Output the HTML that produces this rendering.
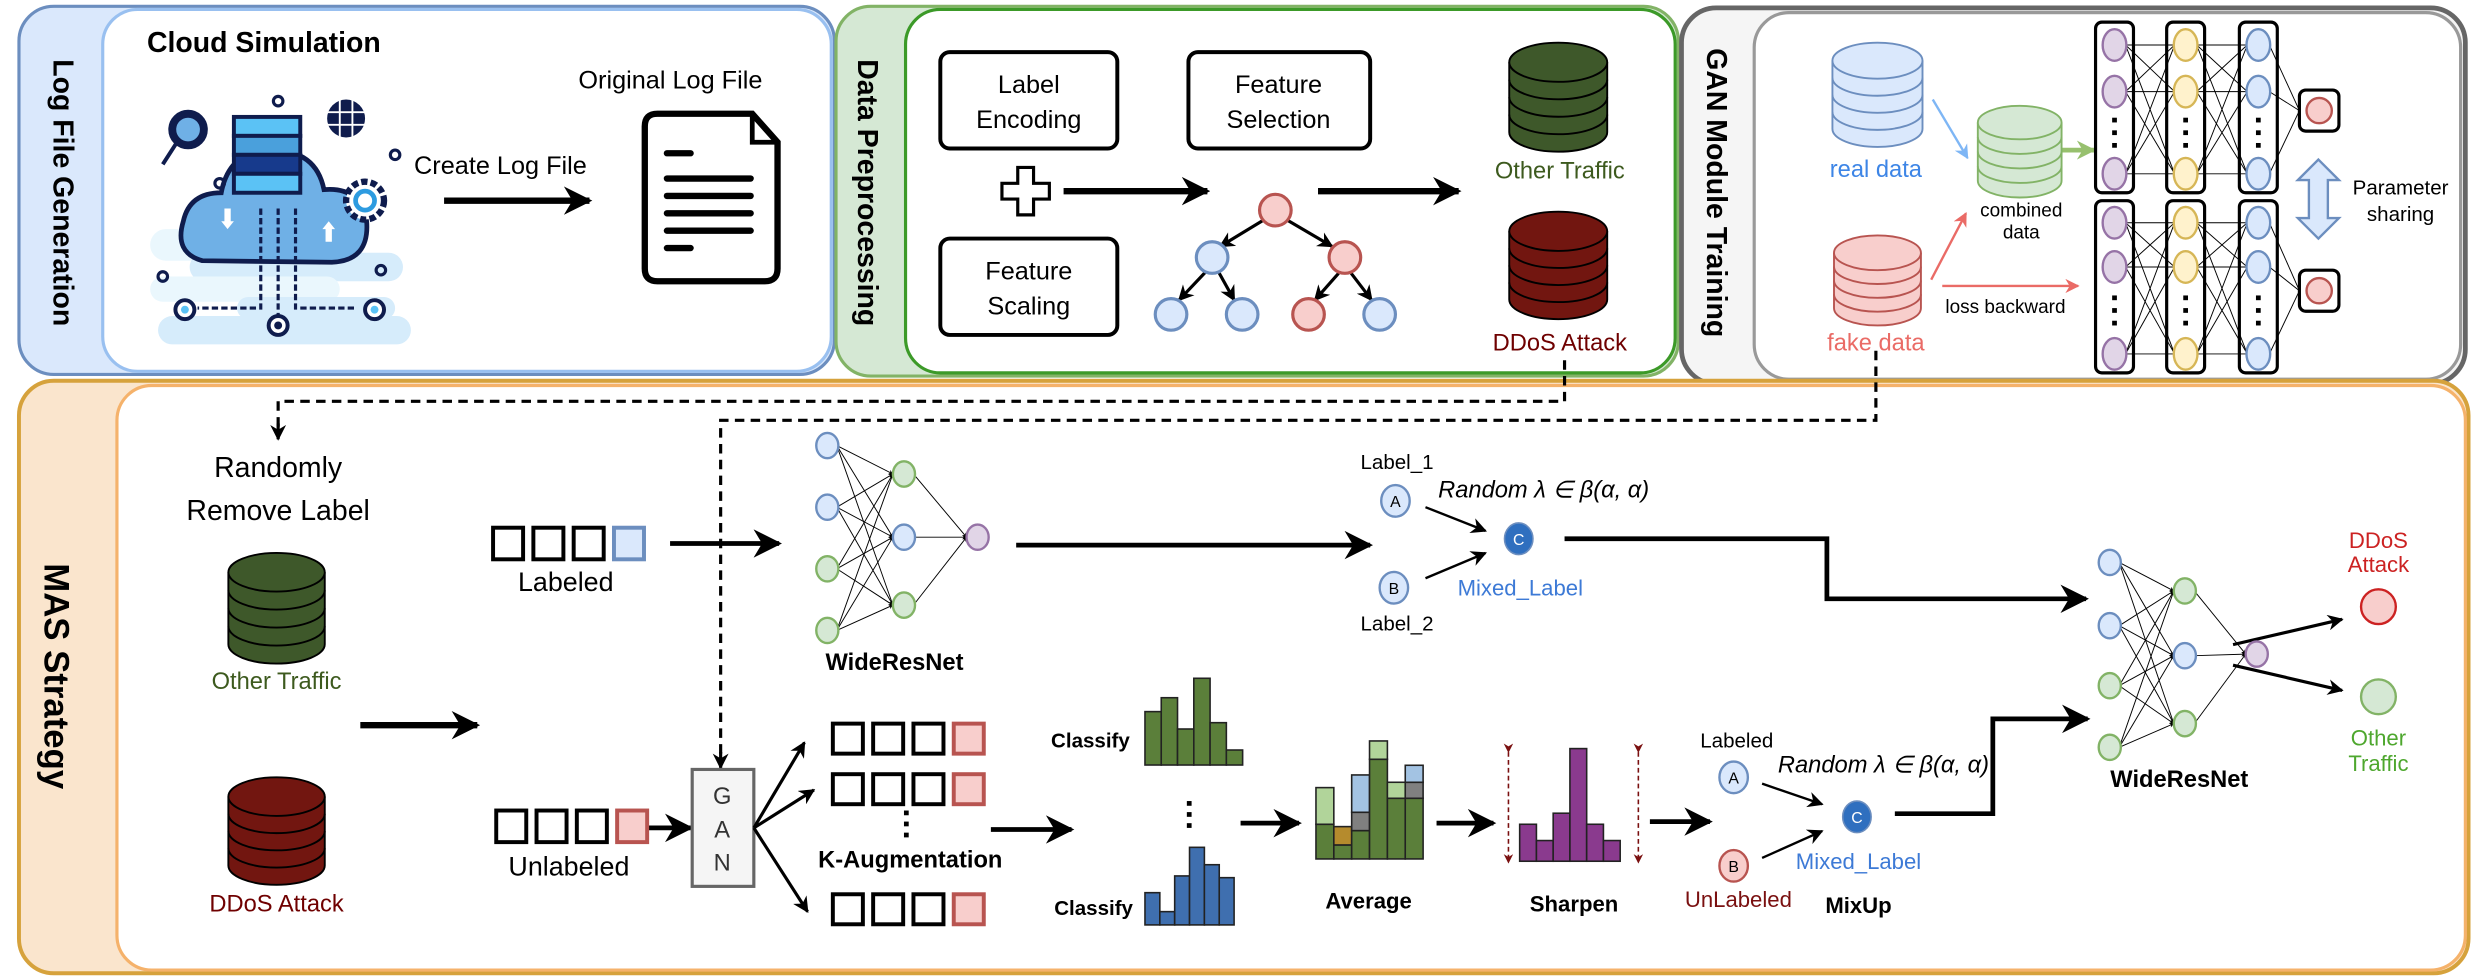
<!DOCTYPE html>
<html><head><meta charset="utf-8"><style>
html,body{margin:0;padding:0;background:#fff;}
svg{display:block;}
text{font-family:"Liberation Sans",Arial,sans-serif;}
</style></head><body>
<svg id="s" width="2478" height="978" viewBox="0 0 1568 619" preserveAspectRatio="none">
<defs>
<marker id="ah" viewBox="0 0 10 10" refX="9" refY="5" markerWidth="5" markerHeight="5" orient="auto"><path d="M0,0 L10,5 L0,10 L3,5 Z" fill="#000"/></marker>
<marker id="ahs" viewBox="0 0 10 10" refX="9" refY="5" markerUnits="userSpaceOnUse" markerWidth="18" markerHeight="18" orient="auto"><path d="M0,0 L10,5 L0,10 L3,5 Z" fill="#000"/></marker>
<marker id="ahm" viewBox="0 0 10 10" refX="9" refY="5" markerUnits="userSpaceOnUse" markerWidth="10" markerHeight="10" orient="auto"><path d="M0,0 L10,5 L0,10 L3,5 Z" fill="#000"/></marker>
<marker id="ahb" viewBox="0 0 10 10" refX="9" refY="5" markerWidth="6" markerHeight="6" orient="auto"><path d="M0,0 L10,5 L0,10 L3,5 Z" fill="#7eb6f5"/></marker>
<marker id="ahr" viewBox="0 0 10 10" refX="9" refY="5" markerWidth="6" markerHeight="6" orient="auto"><path d="M0,0 L10,5 L0,10 L3,5 Z" fill="#ea6b66"/></marker>
<marker id="ahg" viewBox="0 0 10 10" refX="9" refY="5" markerWidth="4" markerHeight="4" orient="auto"><path d="M0,0 L10,5 L0,10 L3,5 Z" fill="#97c06e"/></marker>
<marker id="ahd" viewBox="0 0 10 10" refX="9" refY="5" markerWidth="6" markerHeight="6" orient="auto"><path d="M0,0 L10,5 L0,10 L3,5 Z" fill="#7a1010"/></marker>
</defs>

<rect x="12" y="4" width="516" height="233" rx="22" fill="#dae8fc" stroke="#6c8ebf" stroke-width="2"/>
<rect x="65" y="6" width="461" height="229" rx="22" fill="#fff" stroke="#99c0f0" stroke-width="2"/>
<rect x="529" y="4" width="533" height="234" rx="22" fill="#d5e8d4" stroke="#82b366" stroke-width="2"/>
<rect x="573" y="6" width="487" height="230" rx="22" fill="#fff" stroke="#3c9a28" stroke-width="2"/>
<rect x="1064" y="5" width="496" height="238" rx="22" fill="#f5f5f5" stroke="#666" stroke-width="3"/>
<rect x="1110" y="8" width="447" height="232" rx="22" fill="#fff" stroke="#999" stroke-width="2"/>
<rect x="12" y="241" width="1550" height="375" rx="22" fill="#fae5cd" stroke="#d6a23c" stroke-width="2.5"/>
<rect x="74" y="244" width="1486" height="370" rx="22" fill="#fff" stroke="#f5b26b" stroke-width="2"/>

<text transform="rotate(90 40 122)" x="40" y="128" text-anchor="middle" font-size="18" font-weight="bold">Log File Generation</text>
<text transform="rotate(90 549 122)" x="549" y="128" text-anchor="middle" font-size="18" font-weight="bold">Data Preprocessing</text>
<text transform="rotate(90 1086 122)" x="1086" y="128" text-anchor="middle" font-size="18" font-weight="bold">GAN Module Training</text>
<text transform="rotate(90 36 428)" x="36" y="436" text-anchor="middle" font-size="22" font-weight="bold">MAS Strategy</text>

<text x="93" y="33" font-size="18" font-weight="bold">Cloud Simulation</text>
<text x="366" y="56" font-size="16">Original Log File</text>
<text x="262" y="110" font-size="16">Create Log File</text>
<line x1="281" y1="127" x2="373" y2="127" stroke="#000" stroke-width="4" marker-end="url(#ahs)"/>
<path d="M408,80 Q408,72 416,72 L476,72 L492,90 L492,170 Q492,178 484,178 L416,178 Q408,178 408,170 Z" fill="#fff" stroke="#000" stroke-width="4"/>
<path d="M476,72 L476,90 L492,90" fill="none" stroke="#000" stroke-width="3"/>
<g stroke="#000" stroke-width="4" stroke-linecap="round">
<line x1="422" y1="97" x2="437" y2="97"/><line x1="422" y1="113" x2="475" y2="113"/><line x1="422" y1="124" x2="475" y2="124"/><line x1="422" y1="135" x2="475" y2="135"/><line x1="422" y1="146" x2="475" y2="146"/><line x1="422" y1="157" x2="437" y2="157"/>
</g>
<g>
<rect x="95" y="145" width="130" height="20" rx="10" fill="#eaf7fd"/>
<rect x="120" y="160" width="135" height="18" rx="9" fill="#d6ecfb"/>
<rect x="95" y="175" width="120" height="16" rx="8" fill="#eaf7fd"/>
<rect x="100" y="200" width="160" height="18" rx="9" fill="#d6ecfb"/>
<rect x="150" y="188" width="100" height="14" rx="7" fill="#d6ecfb"/>
<path d="M128,165 Q110,160 116,140 Q120,122 140,122 Q145,95 172,95 Q200,95 205,120 Q228,118 232,140 Q234,165 210,166 Z" fill="#6fb0e6" stroke="#0f1c4d" stroke-width="3"/>
<rect x="148" y="74" width="42" height="12" fill="#5bc2f5" stroke="#0f1c4d" stroke-width="2.5"/>
<rect x="148" y="86" width="42" height="12" fill="#4aa0dc" stroke="#0f1c4d" stroke-width="2.5"/>
<rect x="148" y="98" width="42" height="12" fill="#173a8c" stroke="#0f1c4d" stroke-width="2.5"/>
<rect x="148" y="110" width="42" height="12" fill="#5bc2f5" stroke="#0f1c4d" stroke-width="2.5"/>
<circle cx="119" cy="82" r="10" fill="#6fb0e6" stroke="#0f1c4d" stroke-width="5"/>
<line x1="112" y1="90" x2="103" y2="104" stroke="#0f1c4d" stroke-width="2.5"/>
<circle cx="219" cy="75" r="12" fill="#0f1c4d"/>
<g stroke="#fff" stroke-width="1.2"><line x1="207" y1="71" x2="231" y2="71"/><line x1="207" y1="79" x2="231" y2="79"/><line x1="215" y1="63" x2="215" y2="87"/><line x1="223" y1="63" x2="223" y2="87"/></g>
<circle cx="231" cy="127" r="12" fill="#fff" stroke="#0f1c4d" stroke-width="4" stroke-dasharray="4 2"/>
<circle cx="231" cy="127" r="6" fill="#fff" stroke="#2d9be0" stroke-width="3"/>
<g stroke="#0f1c4d" stroke-width="2" stroke-dasharray="4 2" fill="none">
<path d="M165,132 V195 H125"/><line x1="176" y1="132" x2="176" y2="205"/><path d="M187,132 V195 H226"/></g>
<circle cx="117" cy="196" r="6" fill="#fff" stroke="#0f1c4d" stroke-width="2.5"/><circle cx="117" cy="196" r="2.5" fill="#5bc2f5"/>
<circle cx="237" cy="196" r="6" fill="#fff" stroke="#0f1c4d" stroke-width="2.5"/><circle cx="237" cy="196" r="2.5" fill="#5bc2f5"/>
<circle cx="176" cy="206" r="6" fill="#fff" stroke="#0f1c4d" stroke-width="2.5"/><circle cx="176" cy="206" r="2.5" fill="#0f1c4d"/>
<path d="M144,145 l4,-5 h-2 v-8 h-4 v8 h-2 z" fill="#fff"/>
<path d="M208,140 l4,5 h-2 v8 h-4 v-8 h-2 z" fill="#fff"/>
<g fill="none" stroke="#0f1c4d" stroke-width="2"><circle cx="176" cy="64" r="3"/><circle cx="139" cy="116" r="3"/><circle cx="103" cy="175" r="3"/><circle cx="241" cy="171" r="3"/><circle cx="250" cy="98" r="3"/></g>
</g>

<rect x="595" y="33" width="112" height="61" rx="6" fill="#fff" stroke="#000" stroke-width="2.5"/>
<text x="651" y="59" font-size="16" text-anchor="middle">Label</text><text x="651" y="81" font-size="16" text-anchor="middle">Encoding</text>
<rect x="752" y="33" width="115" height="61" rx="6" fill="#fff" stroke="#000" stroke-width="2.5"/>
<text x="809" y="59" font-size="16" text-anchor="middle">Feature</text><text x="809" y="81" font-size="16" text-anchor="middle">Selection</text>
<rect x="595" y="151" width="112" height="61" rx="6" fill="#fff" stroke="#000" stroke-width="2.5"/>
<text x="651" y="177" font-size="16" text-anchor="middle">Feature</text><text x="651" y="199" font-size="16" text-anchor="middle">Scaling</text>
<path d="M644,106 h10 v10 h10 v10 h-10 v10 h-10 v-10 h-10 v-10 h10 z" fill="#fff" stroke="#000" stroke-width="2"/>
<line x1="673" y1="121" x2="764" y2="121" stroke="#000" stroke-width="4" marker-end="url(#ahs)"/>
<line x1="834" y1="121" x2="923" y2="121" stroke="#000" stroke-width="4" marker-end="url(#ahs)"/>
<g stroke="#000" stroke-width="2">
<line x1="800" y1="139" x2="772" y2="156" marker-end="url(#ahm)"/>
<line x1="814" y1="139" x2="843" y2="156" marker-end="url(#ahm)"/>
<line x1="763" y1="172" x2="746" y2="190" marker-end="url(#ahm)"/>
<line x1="771" y1="172" x2="781" y2="190" marker-end="url(#ahm)"/>
<line x1="847" y1="173" x2="832" y2="190" marker-end="url(#ahm)"/>
<line x1="855" y1="173" x2="868" y2="190" marker-end="url(#ahm)"/>
</g>
<g stroke-width="2">
<ellipse cx="807" cy="133" rx="10" ry="10" fill="#f8cecc" stroke="#b85450"/>
<ellipse cx="767" cy="163" rx="10" ry="10" fill="#dae8fc" stroke="#6c8ebf"/>
<ellipse cx="851" cy="163" rx="10" ry="10" fill="#f8cecc" stroke="#b85450"/>
<ellipse cx="741" cy="199" rx="10" ry="10" fill="#dae8fc" stroke="#6c8ebf"/>
<ellipse cx="786" cy="199" rx="10" ry="10" fill="#dae8fc" stroke="#6c8ebf"/>
<ellipse cx="828" cy="199" rx="10" ry="10" fill="#f8cecc" stroke="#b85450"/>
<ellipse cx="873" cy="199" rx="10" ry="10" fill="#dae8fc" stroke="#6c8ebf"/>
</g>
<text x="987" y="113" font-size="15" fill="#3d5a1e" text-anchor="middle">Other Traffic</text>
<text x="987" y="222" font-size="15" fill="#6f0000" text-anchor="middle">DDoS Attack</text>

<text x="1187" y="112" font-size="15" fill="#3d85e6" text-anchor="middle">real data</text>
<text x="1187" y="222" font-size="15" fill="#ea6b66" text-anchor="middle">fake data</text>
<text x="1279" y="137" font-size="12" text-anchor="middle">combined</text>
<text x="1279" y="151" font-size="12" text-anchor="middle">data</text>
<text x="1269" y="198" font-size="12" text-anchor="middle">loss backward</text>
<line x1="1223" y1="63" x2="1245" y2="100" stroke="#7eb6f5" stroke-width="1.5" marker-end="url(#ahb)"/>
<line x1="1222" y1="177" x2="1244" y2="135" stroke="#ea6b66" stroke-width="1.5" marker-end="url(#ahr)"/>
<line x1="1229" y1="181" x2="1315" y2="181" stroke="#ea6b66" stroke-width="1.5" marker-end="url(#ahr)"/>
<line x1="1305" y1="95" x2="1325" y2="95" stroke="#97c06e" stroke-width="3" marker-end="url(#ahg)"/>
<path d="M1467,101 L1480,114 L1473,114 L1473,138 L1480,138 L1467,151 L1454,138 L1461,138 L1461,114 L1454,114 Z" fill="#dae8fc" stroke="#6c8ebf" stroke-width="1.5"/>
<text x="1519" y="123" font-size="13" text-anchor="middle">Parameter</text>
<text x="1519" y="140" font-size="13" text-anchor="middle">sharing</text>

<g stroke="#000" stroke-width="2" stroke-dasharray="6 4" fill="none">
<path d="M990,228 V254 H176 V272"/>
<path d="M1187,222 V266 H456 V480"/>
</g>
<line x1="176" y1="268" x2="176" y2="278" stroke="#000" stroke-width="2" marker-end="url(#ahm)"/>
<line x1="456" y1="476" x2="456" y2="486" stroke="#000" stroke-width="2" marker-end="url(#ahm)"/>
<text x="176" y="302" font-size="18" text-anchor="middle">Randomly</text>
<text x="176" y="329" font-size="18" text-anchor="middle">Remove Label</text>
<text x="175" y="436" font-size="15" fill="#3d5a1e" text-anchor="middle">Other Traffic</text>
<text x="175" y="577" font-size="15" fill="#6f0000" text-anchor="middle">DDoS Attack</text>
<line x1="228" y1="459" x2="302" y2="459" stroke="#000" stroke-width="4" marker-end="url(#ahs)"/>

<text x="358" y="374" font-size="17" text-anchor="middle">Labeled</text>
<text x="360" y="554" font-size="17" text-anchor="middle">Unlabeled</text>
<line x1="424" y1="344" x2="493" y2="344" stroke="#000" stroke-width="3" marker-end="url(#ahs)"/>
<line x1="410" y1="524" x2="437" y2="524" stroke="#000" stroke-width="3" marker-end="url(#ahs)"/>
<rect x="438" y="487" width="39" height="74" fill="#f5f5f5" stroke="#666" stroke-width="2"/>
<text x="457" y="509" font-size="15" text-anchor="middle" fill="#333">G</text>
<text x="457" y="530" font-size="15" text-anchor="middle" fill="#333">A</text>
<text x="457" y="551" font-size="15" text-anchor="middle" fill="#333">N</text>
<g stroke="#000" stroke-width="2">
<line x1="477" y1="524" x2="509" y2="470" marker-end="url(#ahm)"/>
<line x1="477" y1="524" x2="515" y2="500" marker-end="url(#ahm)"/>
<line x1="477" y1="524" x2="511" y2="577" marker-end="url(#ahm)"/>
</g>
<g fill="#000"><rect x="572" y="513" width="3" height="3"/><rect x="572" y="520" width="3" height="3"/><rect x="572" y="527" width="3" height="3"/>
<rect x="751" y="507" width="3" height="3"/><rect x="751" y="514" width="3" height="3"/><rect x="751" y="521" width="3" height="3"/></g>
<text x="576" y="549" font-size="15" font-weight="bold" text-anchor="middle">K-Augmentation</text>
<line x1="627" y1="525" x2="678" y2="525" stroke="#000" stroke-width="3" marker-end="url(#ahs)"/>
<text x="690" y="473" font-size="13" font-weight="bold" text-anchor="middle">Classify</text>
<text x="692" y="579" font-size="13" font-weight="bold" text-anchor="middle">Classify</text>
<line x1="785" y1="521" x2="822" y2="521" stroke="#000" stroke-width="3" marker-end="url(#ahs)"/>
<line x1="909" y1="521" x2="945" y2="521" stroke="#000" stroke-width="3" marker-end="url(#ahs)"/>
<line x1="1044" y1="520" x2="1082" y2="520" stroke="#000" stroke-width="3" marker-end="url(#ahs)"/>
<text x="866" y="575" font-size="14" font-weight="bold" text-anchor="middle">Average</text>
<text x="996" y="577" font-size="14" font-weight="bold" text-anchor="middle">Sharpen</text>
<g stroke="#7a1010" stroke-width="1" stroke-dasharray="3 2">
<line x1="954.5" y1="476" x2="954.5" y2="546" marker-end="url(#ahd)" marker-start="url(#ahd)"/>
<line x1="1036.7" y1="476" x2="1036.7" y2="546" marker-end="url(#ahd)" marker-start="url(#ahd)"/>
</g>

<line x1="643" y1="345" x2="867" y2="345" stroke="#000" stroke-width="3" marker-end="url(#ahs)"/>
<text x="884" y="297" font-size="13" text-anchor="middle">Label_1</text>
<text x="884" y="399" font-size="13" text-anchor="middle">Label_2</text>
<text x="910" y="315" font-size="15" font-style="italic" font-family="Liberation Serif,serif">Random λ ∈ β(α, α)</text>
<ellipse cx="883" cy="317" rx="9" ry="10" fill="#dae8fc" stroke="#6c8ebf" stroke-width="1.5"/>
<text x="883" y="321" font-size="10" text-anchor="middle">A</text>
<ellipse cx="882" cy="372" rx="9" ry="10" fill="#dae8fc" stroke="#6c8ebf" stroke-width="1.5"/>
<text x="882" y="376" font-size="10" text-anchor="middle">B</text>
<ellipse cx="961" cy="341" rx="9" ry="10" fill="#2f6fbf" stroke="#6c8ebf" stroke-width="1"/>
<text x="961" y="345" font-size="10" fill="#fff" text-anchor="middle">C</text>
<text x="962" y="377" font-size="14" fill="#3d7ad6" text-anchor="middle">Mixed_Label</text>
<line x1="902" y1="321" x2="940" y2="336" stroke="#000" stroke-width="1.5" marker-end="url(#ahm)"/>
<line x1="902" y1="366" x2="940" y2="350" stroke="#000" stroke-width="1.5" marker-end="url(#ahm)"/>
<path d="M990,341 H1156 V379 H1320" fill="none" stroke="#000" stroke-width="3" marker-end="url(#ahs)"/>

<text x="1099" y="473" font-size="13" text-anchor="middle">Labeled</text>
<text x="1125" y="489" font-size="15" font-style="italic" font-family="Liberation Serif,serif">Random λ ∈ β(α, α)</text>
<ellipse cx="1097" cy="492" rx="9" ry="10" fill="#dae8fc" stroke="#6c8ebf" stroke-width="1.5"/>
<text x="1097" y="496" font-size="10" text-anchor="middle">A</text>
<ellipse cx="1097" cy="548" rx="9" ry="10" fill="#f8cecc" stroke="#b85450" stroke-width="1.5"/>
<text x="1097" y="552" font-size="10" text-anchor="middle">B</text>
<ellipse cx="1175" cy="517" rx="9" ry="10" fill="#2f6fbf" stroke="#6c8ebf" stroke-width="1"/>
<text x="1175" y="521" font-size="10" fill="#fff" text-anchor="middle">C</text>
<text x="1176" y="550" font-size="14" fill="#3d7ad6" text-anchor="middle">Mixed_Label</text>
<text x="1100" y="574" font-size="14" fill="#7a1010" text-anchor="middle">UnLabeled</text>
<text x="1176" y="578" font-size="14" font-weight="bold" text-anchor="middle">MixUp</text>
<line x1="1115" y1="496" x2="1153" y2="509" stroke="#000" stroke-width="1.5" marker-end="url(#ahm)"/>
<line x1="1115" y1="543" x2="1153" y2="526" stroke="#000" stroke-width="1.5" marker-end="url(#ahm)"/>
<path d="M1199,515 H1261 V455 H1321" fill="none" stroke="#000" stroke-width="3" marker-end="url(#ahs)"/>

<text x="566" y="424" font-size="15" font-weight="bold" text-anchor="middle">WideResNet</text>
<text x="1379" y="498" font-size="15" font-weight="bold" text-anchor="middle">WideResNet</text>
<line x1="1413" y1="408" x2="1482" y2="392" stroke="#000" stroke-width="2" marker-end="url(#ahm)"/>
<line x1="1413" y1="421" x2="1482" y2="437" stroke="#000" stroke-width="2" marker-end="url(#ahm)"/>
<ellipse cx="1505" cy="384" rx="11" ry="11" fill="#f8cecc" stroke="#cc2222" stroke-width="1.5"/>
<ellipse cx="1505" cy="441" rx="11" ry="11" fill="#d5e8d4" stroke="#82b366" stroke-width="1.5"/>
<text x="1505" y="347" font-size="14" fill="#cc2222" text-anchor="middle">DDoS</text>
<text x="1505" y="362" font-size="14" fill="#cc2222" text-anchor="middle">Attack</text>
<text x="1505" y="472" font-size="14" fill="#4ea72e" text-anchor="middle">Other</text>
<text x="1505" y="488" font-size="14" fill="#4ea72e" text-anchor="middle">Traffic</text>
</svg>
<script>
(function(){
var s=document.getElementById('s');
function add(h){s.insertAdjacentHTML('beforeend',h);}
function cyl(cx,top,bot,w,n,fill,stroke){
 var rx=w/2,ry=w*0.2,h='';var L=cx-rx,R=cx+rx;
 h+='<path d="M'+L+','+(top+ry)+' V'+(bot-ry)+' A'+rx+','+ry+' 0 0 0 '+R+','+(bot-ry)+' V'+(top+ry)+'" fill="'+fill+'" stroke="'+stroke+'" stroke-width="1.2"/>';
 h+='<ellipse cx="'+cx+'" cy="'+(top+ry)+'" rx="'+rx+'" ry="'+ry+'" fill="'+fill+'" stroke="'+stroke+'" stroke-width="1.2"/>';
 var step=(bot-top-2*ry)/n;
 for(var i=1;i<n;i++){var y=top+ry+step*i;h+='<path d="M'+L+','+y+' A'+rx+','+ry+' 0 0 0 '+R+','+y+'" fill="none" stroke="'+stroke+'" stroke-width="1.2"/>';}
 add(h);
}
cyl(986,27,96,62,4,'#3e582a','#000');
cyl(986,134,202,62,4,'#721610','#000');
cyl(175,350,420,61,4,'#3e582a','#000');
cyl(175,492,560,61,4,'#721610','#000');
cyl(1188,27,93,57,4,'#dae8fc','#6c8ebf');
cyl(1188,149,206,55,4,'#f8cecc','#b85450');
cyl(1278,67,125,53,4,'#d5e8d4','#82b366');
var cols=[1338,1383,1429],h='';
function ganSet(y0,y1,ys,dy){
 for(var c=0;c<3;c++){h+='<rect x="'+(cols[c]-12)+'" y="'+y0+'" width="24" height="'+(y1-y0)+'" rx="4" fill="#fff" stroke="#000" stroke-width="2"/>';}
 for(var c=0;c<2;c++)for(var i=0;i<3;i++)for(var j=0;j<3;j++)h+='<line x1="'+(cols[c]+7)+'" y1="'+ys[i]+'" x2="'+(cols[c+1]-7)+'" y2="'+ys[j]+'" stroke="#000" stroke-width="0.6"/>';
 for(var i=0;i<3;i++)h+='<line x1="'+(cols[2]+7)+'" y1="'+ys[i]+'" x2="1455" y2="'+dy+'" stroke="#000" stroke-width="0.6"/>';
 h+='<rect x="1455" y="'+(dy-13)+'" width="25" height="26" rx="4" fill="#fff" stroke="#000" stroke-width="2"/>';
 h+='<ellipse cx="1467.5" cy="'+dy+'" rx="8" ry="8" fill="#f8cecc" stroke="#b85450" stroke-width="1.5"/>';
 var cf=[['#e1d5e7','#9673a6'],['#fff2cc','#d6b656'],['#dae8fc','#6c8ebf']];
 for(var c=0;c<3;c++){for(var i=0;i<3;i++)h+='<ellipse cx="'+cols[c]+'" cy="'+ys[i]+'" rx="7.5" ry="10" fill="'+cf[c][0]+'" stroke="'+cf[c][1]+'" stroke-width="1.5"/>';
  var m=(ys[1]+ys[2])/2;for(var k=-1;k<=1;k++)h+='<rect x="'+(cols[c]-1.5)+'" y="'+(m+k*8-1.5)+'" width="3" height="3"/>';}
}
ganSet(14,122,[28.5,58,110],70);
ganSet(127,236,[141,169,224],184);
add(h);
h='';
function sqrow(x,y,w,last,ls){for(var i=0;i<3;i++)h+='<rect x="'+(x+i*25.5)+'" y="'+y+'" width="19" height="'+w+'" fill="#fff" stroke="#000" stroke-width="2.5"/>';
 h+='<rect x="'+(x+3*25.5)+'" y="'+y+'" width="19" height="'+w+'" fill="'+last+'" stroke="'+ls+'" stroke-width="2.5"/>';}
sqrow(312,334,20,'#dae8fc','#6c8ebf');
sqrow(314,513,20,'#f8cecc','#b85450');
sqrow(527,458,19,'#f8cecc','#b85450');
sqrow(527,490,19,'#f8cecc','#b85450');
sqrow(527,566,19,'#f8cecc','#b85450');
add(h);
h='';
function hist(x0,w,tops,base,fill){for(var i=0;i<tops.length;i++)h+='<rect x="'+(x0+i*w)+'" y="'+tops[i]+'" width="'+w+'" height="'+(base-tops[i])+'" fill="'+fill+'" stroke="#222" stroke-width="1"/>';}
hist(724.5,10.3,[450.4,441.6,461.4,429.3,457.4,474.7],484.2,'#5b7f3a');
hist(724.5,9.4,[565,577,554.4,536.3,547.3,555.5],585.4,'#3f6faf');
hist(961.6,10.6,[521.7,532,514.7,473.8,521.7,532],545.1,'#8a3a8e');
function Y(z){return 417.7+z/4.74;}
var av=[[[597,493,'#5b7f3a'],[493,383,'#b1d49a']],[[597,555,'#5b7f3a'],[555,500,'#b58b2d']],[[597,512,'#5b7f3a'],[512,457,'#808080'],[457,345,'#a3c3e3']],[[597,298,'#5b7f3a'],[298,243,'#b1d49a']],[[597,415,'#5b7f3a'],[415,367,'#b1d49a']],[[597,415,'#5b7f3a'],[415,367,'#808080'],[367,316,'#a3c3e3']]];
for(var i=0;i<6;i++)for(var k=0;k<av[i].length;k++){var a=av[i][k];h+='<rect x="'+(832.7+i*11.3)+'" y="'+Y(a[1])+'" width="11.3" height="'+(Y(a[0])-Y(a[1]))+'" fill="'+a[2]+'" stroke="#222" stroke-width="1"/>';}
add(h);
h='';
function net(ix,iy,hx,hy,ox,oy){
 var ic=['b','b','g','g'],hc=['g','b','g'],C={b:['#dae8fc','#6c8ebf'],g:['#d5e8d4','#82b366'],p:['#e1d5e7','#9673a6']};
 for(var i=0;i<4;i++)for(var j=0;j<3;j++)h+='<line x1="'+(ix+6)+'" y1="'+iy[i]+'" x2="'+(hx-7)+'" y2="'+hy[j]+'" stroke="#000" stroke-width="0.6" marker-end="url(#ah)"/>';
 for(var j=0;j<3;j++)h+='<line x1="'+(hx+6)+'" y1="'+hy[j]+'" x2="'+(ox-7)+'" y2="'+oy+'" stroke="#000" stroke-width="0.6" marker-end="url(#ah)"/>';
 for(var i=0;i<4;i++)h+='<ellipse cx="'+ix+'" cy="'+iy[i]+'" rx="7" ry="8" fill="'+C[ic[i]][0]+'" stroke="'+C[ic[i]][1]+'" stroke-width="1.5"/>';
 for(var j=0;j<3;j++)h+='<ellipse cx="'+hx+'" cy="'+hy[j]+'" rx="7" ry="8" fill="'+C[hc[j]][0]+'" stroke="'+C[hc[j]][1]+'" stroke-width="1.5"/>';
 h+='<ellipse cx="'+ox+'" cy="'+oy+'" rx="7" ry="8" fill="'+C.p[0]+'" stroke="'+C.p[1]+'" stroke-width="1.5"/>';
}
net(523.5,[282,321,360,399],572,[300,340,383],618.6,340);
net(1335,[356,396,434,473],1382.5,[374,415,458],1428,414);
add(h);
})();
</script>
</body></html>
